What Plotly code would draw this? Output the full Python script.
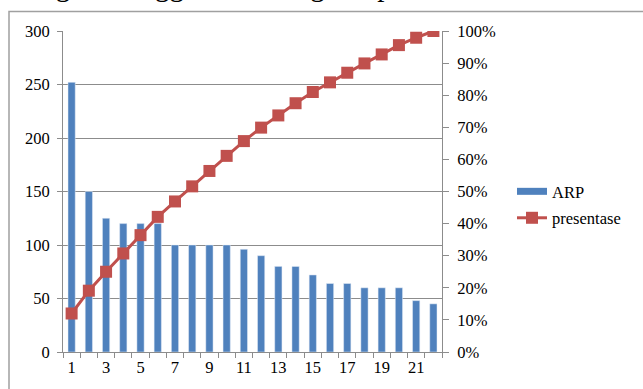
import plotly.graph_objects as go

categories = list(range(1, 23))
arp = [252, 150, 125, 120, 120, 120, 100, 100, 100, 100, 96, 90, 80, 80, 72, 64, 64, 60, 60, 60, 48, 45]
presentase = [0.120, 0.191, 0.250, 0.307, 0.364, 0.421, 0.469, 0.516, 0.564, 0.611,
              0.657, 0.699, 0.737, 0.775, 0.810, 0.840, 0.870, 0.899, 0.927, 0.956, 0.979, 1.000]
x_tick_vals = [1, 3, 5, 7, 9, 11, 13, 15, 17, 19, 21]
x_tick_text = [str(v) for v in x_tick_vals]

BLUE = "#4F81BD"
RED = "#C0504D"
GRID = "#8C8C8C"
FONT = "Liberation Serif, Times New Roman, serif"
FS = 16.5

fig = go.Figure()
fig.add_trace(go.Bar(x=categories, y=arp, name="ARP", marker_color=BLUE,
                     width=0.42, showlegend=False))
# legend-only entry drawn as a wide blue swatch like the reference
fig.add_trace(go.Scatter(x=[None], y=[None], name="ARP", mode="lines",
                         line=dict(color=BLUE, width=7), legendgroup="a"))
fig.add_trace(go.Scatter(x=categories, y=presentase, name="presentase", yaxis="y2",
                         mode="lines+markers",
                         line=dict(color=RED, width=3),
                         marker=dict(symbol="square", size=12, color=RED),
                         legendgroup="b"))

L, R, T, B = 63, 201, 31, 35
W, H = 643, 389
pw, ph = W - L - R, H - T - B

def px(x):
    return (x - L) / pw

def py(y):
    return (H - B - y) / ph

fig.update_layout(
    width=W, height=H,
    margin=dict(l=L, r=R, t=T, b=B, pad=0),
    paper_bgcolor="white", plot_bgcolor="white",
    font=dict(family=FONT, size=FS, color="black"),
    showlegend=True,
    legend=dict(x=px(512), y=py(175), xanchor="left", yanchor="top",
                font=dict(family=FONT, size=FS, color="black"),
                tracegroupgap=2, traceorder="grouped", bgcolor="rgba(0,0,0,0)"),
    xaxis=dict(range=[0.5, 22.5], tickmode="array", tickvals=x_tick_vals, ticktext=x_tick_text,
               ticks="", showgrid=False, zeroline=False, showline=True, linecolor=GRID,
               linewidth=1,
               minor=dict(tick0=0.5, dtick=1, ticks="outside", ticklen=5, tickcolor=GRID,
                          showgrid=False),
               tickfont=dict(family=FONT, size=FS)),
    yaxis=dict(range=[0, 300], dtick=50, showgrid=True, gridcolor=GRID, gridwidth=1,
               zeroline=False, showline=True, linecolor=GRID, ticks="outside",
               ticklen=5, tickcolor=GRID, ticklabelstandoff=4,
               tickfont=dict(family=FONT, size=FS)),
    yaxis2=dict(range=[0, 1], dtick=0.1, tickformat=".0%", overlaying="y", side="right",
                showgrid=False, zeroline=False, showline=True, linecolor=GRID,
                ticks="outside", ticklen=6, tickcolor=GRID, ticklabelstandoff=5,
                tickfont=dict(family=FONT, size=FS)),
    bargap=0.6,
)

fig.add_shape(type="rect", xref="paper", yref="paper",
              x0=px(9), x1=px(660), y0=py(400), y1=py(11.5),
              line=dict(color="#A0A0A0", width=1.5), fillcolor="rgba(0,0,0,0)", layer="below")

fig.add_annotation(text="dengan menggunakan diagram pareto.", xref="paper", yref="paper",
                   x=px(12), y=py(4), xanchor="left", yanchor="bottom", showarrow=False,
                   font=dict(family=FONT, size=29, color="black"))

fig.write_html("out.html", config={"displayModeBar": False},
               post_script="document.body.style.margin='0';document.body.style.overflow='hidden';")
